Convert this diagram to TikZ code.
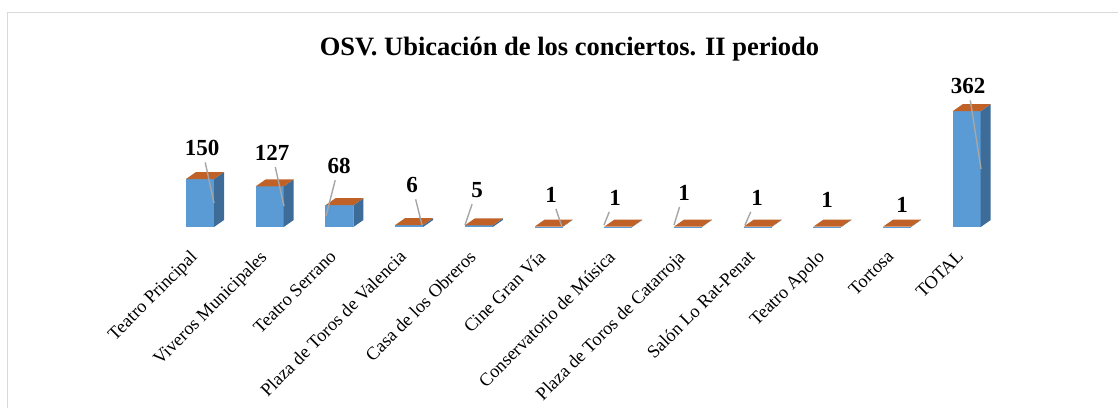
\documentclass[tikz,border=0pt]{standalone}
\usepackage{fontspec}
\setmainfont{Liberation Serif}

\definecolor{barfront}{RGB}{91,155,213}
\definecolor{barside}{RGB}{62,108,152}
\definecolor{bartop}{RGB}{192,98,40}
\definecolor{leadgray}{RGB}{166,166,166}
\definecolor{framegray}{RGB}{217,217,217}

\begin{document}
\begin{tikzpicture}
[ x=1pt, y=-1pt
, facefront/.style={fill=barfront}
, faceside/.style={fill=barside}
, facetop/.style={fill=bartop}
, value/.style={font=\fontsize{23}{25}\selectfont\bfseries, anchor=base, inner sep=2pt}
, cat/.style={font=\fontsize{18.3}{20}\selectfont, anchor=north east, rotate=45, inner sep=0pt}
, leader/.style={draw=leadgray, line width=1.4pt, shorten <=5pt}
]

\useasboundingbox (0,0) rectangle (1118,408);
\draw[framegray, line width=1.5pt] (7.5,408) -- (7.5,12.5) -- (1118,12.5);

\node[font=\fontsize{26.5}{28}\selectfont\bfseries, anchor=base] (title) at (569.5,55)
  {OSV. Ubicación de los conciertos. II periodo};

\foreach \val/\name [count=\i] in
  {150/Teatro Principal, 127/Viveros Municipales, 68/Teatro Serrano,
   6/Plaza de Toros de Valencia, 5/Casa de los Obreros, 1/Cine Gran Vía,
   1/Conservatorio de Música, 1/Plaza de Toros de Catarroja,
   1/Salón Lo Rat-Penat, 1/Teatro Apolo, 1/Tortosa, 362/TOTAL}
{
  \pgfmathsetmacro\bx{186+69.7*(\i-1)}
  \pgfmathsetmacro\bh{0.32*\val}
  \fill[facefront] (\bx,227) rectangle (\bx+28,227-\bh);
  \fill[faceside] (\bx+28,227) -- (\bx+38,220) -- (\bx+38,220-\bh) -- (\bx+28,227-\bh) -- cycle;
  \fill[facetop] (\bx,227-\bh) -- (\bx+10,220-\bh) -- (\bx+38,220-\bh) -- (\bx+28,227-\bh) -- cycle;
  \node[cat] (c\i) at (\bx+3,249) {\name};
}

\node[value] (v1)  at (202,155) {150};
\node[value] (v2)  at (272,160) {127};
\node[value] (v3)  at (339,173) {68};
\node[value] (v4)  at (412,192) {6};
\node[value] (v5)  at (477,197) {5};
\node[value] (v6)  at (551,202) {1};
\node[value] (v7)  at (615,205) {1};
\node[value] (v8)  at (684,200) {1};
\node[value] (v9)  at (757,205) {1};
\node[value] (v10) at (827,207) {1};
\node[value] (v11) at (902,212) {1};
\node[value] (v12) at (968,93)  {362};

\coordinate (p1)  at (214,203);
\coordinate (p2)  at (284,206);
\coordinate (p3)  at (326,216);
\coordinate (p4)  at (422,225);
\coordinate (p5)  at (465,225);
\coordinate (p6)  at (562,227);
\coordinate (p7)  at (604,225);
\coordinate (p8)  at (674,225);
\coordinate (p9)  at (745,225);
\coordinate (p12) at (981,169);

\draw[leader] (v1) -- (p1);
\draw[leader] (v2) -- (p2);
\draw[leader] (v3) -- (p3);
\draw[leader] (v4) -- (p4);
\draw[leader] (v5) -- (p5);
\draw[leader] (v6) -- (p6);
\draw[leader] (v7) -- (p7);
\draw[leader] (v8) -- (p8);
\draw[leader] (v9) -- (p9);
\draw[leader] (v12) -- (p12);

\end{tikzpicture}
\end{document}
